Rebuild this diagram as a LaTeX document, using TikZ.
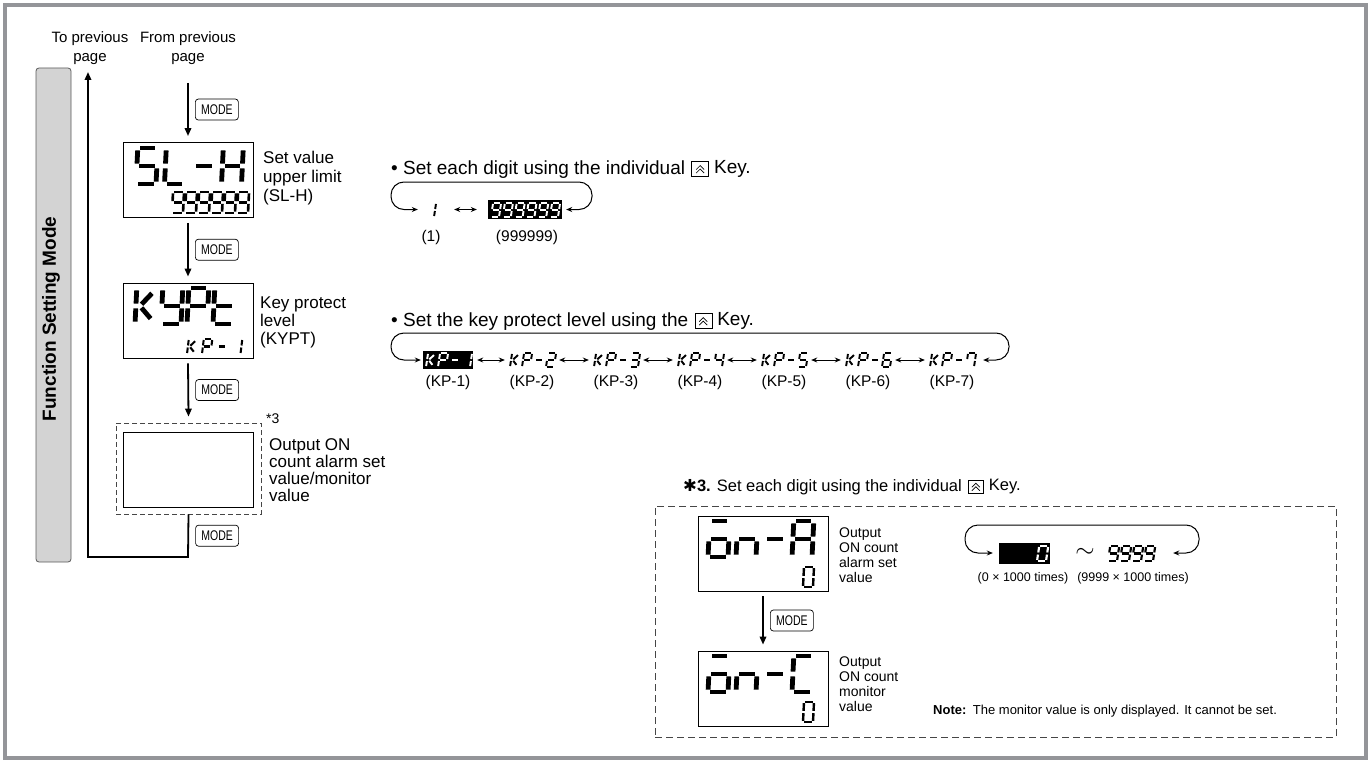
\documentclass[tikz,border=0pt]{standalone}
\usepackage{fontspec}
\setmainfont{Liberation Sans}
\newfontfamily\dejavu{DejaVu Sans}
\usepackage{graphicx}
\usetikzlibrary{arrows.meta, calc, positioning}

\definecolor{framegray}{RGB}{148,149,153}
\definecolor{bargray}{RGB}{211,211,211}
\definecolor{barline}{RGB}{90,90,90}
\definecolor{dashgray}{RGB}{70,70,70}

% segments of a seven segment digit (u to the right, v upwards)
\def\segXa{(0,1) -- (1,1)}
\def\segXb{(1,1) -- (1,0.5)}
\def\segXc{(1,0.5) -- (1,0)}
\def\segXd{(0,0) -- (1,0)}
\def\segXe{(0,0.5) -- (0,0)}
\def\segXf{(0,1) -- (0,0.5)}
\def\segXg{(0,0.5) -- (1,0.5)}
\def\segXp{(0.2,0.5) -- (0.85,0.9)}
\def\segXq{(0.2,0.5) -- (0.85,0.1)}

% characters
\def\dgS{a,f,g,c,d}
\def\dgL{f,e,d}
\def\dgH{f,e,b,c,g}
\def\dgDash{g}
\def\dgK{f,e,p,q}
\def\dgY{f,b,g,c,d}
\def\dgP{a,b,f,g,e}
\def\dgT{f,e,d,g}
\def\dgOb{a,g,c,d,e}
\def\dgN{e,g,c}
\def\dgA{a,b,c,e,f,g}
\def\dgC{a,f,e,d}
\def\dgZero{a,b,c,d,e,f}
\def\dgOne{b,c}
\def\dgTwo{a,b,g,e,d}
\def\dgThree{a,b,g,c,d}
\def\dgFour{f,g,b,c}
\def\dgFive{a,f,g,c,d}
\def\dgSix{a,f,g,e,c,d}
\def\dgSeven{a,b,c,f}
\def\dgNine{a,b,c,d,f,g}

% [slant]{x}{y}{width}{height}{colour}{segments}, (x,y) = lower left corner
\newcommand{\segchar}[7][0.05]{%
  \pgfmathsetmacro\segx{#2}%
  \pgfmathsetmacro\segy{#3}%
  \pgfmathsetmacro\segyx{#1*#5}%
  \pgfmathsetmacro\seglw{#4*0.24}%
  \pgfmathsetmacro\seggap{#4*0.12}%
  \edef\seglist{#7}%
  \begin{scope}[shift={(\segx,\segy)}, x={(#4pt,0pt)}, y={(\segyx pt,#5pt)}]
    \foreach \sg in \seglist {%
      \edef\segtmp{\noexpand\draw[line cap=butt, draw=#6, line width=\seglw pt,
        shorten <=\seggap pt, shorten >=\seggap pt] \csname segX\sg\endcsname;}%
      \segtmp}
  \end{scope}}
% [slant]{x}{y}{width}{height}{pitch}{colour}{characters}
\newcommand{\segrow}[8][0.05]{%
  \foreach \gl [count=\i from 0] in {#8} {\segchar[#1]{#2+\i*#6}{#3}{#4}{#5}{#7}{\gl}}}

% the double chevron of the up key
\newcommand{\upchevrons}[1]{%
  \draw[line width=0.7pt] ([shift={(-4,0.5)}]#1.center) -- ([shift={(0,-3.5)}]#1.center) -- ([shift={(4,0.5)}]#1.center);
  \draw[line width=0.7pt] ([shift={(-4,4)}]#1.center) -- (#1.center) -- ([shift={(4,4)}]#1.center);}
\newcommand{\modetext}{\scalebox{0.75}[1]{MODE}}

\begin{document}
\begin{tikzpicture}[x=1pt, y=-1pt, >={Stealth[length=6pt,width=5pt]},
  flow/.style={line width=1.8pt, -{Triangle[length=8pt,width=6.5pt]}},
  modekey/.style={draw, line width=0.7pt, rounded corners=3pt, minimum width=43pt,
    minimum height=21pt, inner sep=0pt, font=\fontsize{14}{14}\selectfont},
  lcd/.style={draw, line width=0.9pt, minimum width=130pt, minimum height=75pt, inner sep=0pt},
  lbl/.style={align=left, inner sep=0pt, font=\fontsize{17}{18}\selectfont},
  caplbl/.style={inner sep=0pt, font=\fontsize{15.5}{15.5}\selectfont},
  bullet/.style={inner sep=0pt, font=\fontsize{19}{19}\selectfont},
  keyicon/.style={draw, line width=0.6pt, minimum width=17pt, minimum height=15pt, inner sep=0pt},
  loopline/.style={line width=1pt, rounded corners=13pt, <->},
  swap/.style={line width=0.9pt, <->, shorten <=4pt, shorten >=4pt},
  hilite/.style={fill=black, inner sep=0pt}]
  \useasboundingbox (0,0) rectangle (1371,760);

  % Frame
  \draw[framegray, line width=4pt] (5,5) rectangle (1366,758);

  % Mode bar
  \node[draw=barline, fill=bargray, line width=0.8pt, rounded corners=3pt, minimum width=35pt,
    minimum height=494pt, inner sep=0pt] (fsmbar) at (53.5,315) {};
  \node[rotate=90, inner sep=0pt, font=\bfseries\fontsize{19}{19}\selectfont] (fsmtext) at (51,319) {Function Setting Mode};

  % Page links
  \node[align=center, inner sep=0pt, font=\fontsize{15}{18.5}\selectfont] (toprevtxt) at (90,48) {To previous\\page};
  \node[align=center, inner sep=0pt, font=\fontsize{15}{18.5}\selectfont] (fromprevtxt) at (188,48) {From previous\\page};
  \coordinate (fromprev) at (188,83);
  \coordinate (toprev) at (88,72);
  \coordinate (turn) at (188,557);

  % Displays of the main flow
  \node[lcd] (slh) at (188,180) {};
  \node[lcd] (kypt) at (188,320.5) {};
  \node[draw=dashgray, dash pattern=on 5pt off 3pt, line width=0.8pt, minimum width=145pt,
    minimum height=91pt, inner sep=0pt] (optbox) at (188.5,468.5) {};
  \node[lcd] (onbox) at (188,469.5) {};

  \segrow{136}{184}{20}{36}{28.5}{black}{\dgS,\dgL,\dgDash,\dgH}
  \segrow{172}{213}{11}{21}{13}{black}{\dgNine,\dgNine,\dgNine,\dgNine,\dgNine,\dgNine}
  \segrow{135}{324}{20}{36}{26}{black}{\dgK,\dgY,\dgP,\dgT}
  \segrow[0.12]{187}{354}{8.5}{15}{15}{black}{\dgK,\dgP,\dgDash,\dgOne}

  % Flow arrows
  \draw[flow] (fromprev) -- ([yshift=6pt]slh.north) node[midway, right=7pt, modekey] (mode1) {\modetext};
  \draw[flow] ([yshift=-5pt]slh.south) -- ([yshift=6pt]kypt.north) node[midway, right=7pt, modekey] (mode2) {\modetext};
  \draw[flow] ([yshift=-5pt]kypt.south) -- ([yshift=6pt]optbox.north) node[midway, right=7pt, modekey] (mode3) {\modetext};
  \draw[flow] (optbox.south) -- (turn) node[midway, right=7pt, modekey] (mode4) {\modetext} -| (toprev);

  % Labels of the displays
  \node[lbl, anchor=north west, font=\fontsize{17}{19}\selectfont] (slhlbl) at (263,150.5) {Set value\\upper limit\\(SL-H)};
  \node[lbl, anchor=north west] (kyptlbl) at (260,296.5) {Key protect\\level\\(KYPT)};
  \node[lbl, anchor=north west, font=\fontsize{17}{17}\selectfont] (optlbl) at (269,438.5) {Output ON\\count alarm set\\value/monitor\\value};
  \node[anchor=west, inner sep=0pt, font=\fontsize{14}{14}\selectfont] (star3) at (266,419) {*3};

  % Setting of SL-H
  \node[bullet, anchor=base west] (bul1) at (391,174) {\textbullet\ Set each digit using the individual};
  \node[keyicon, right=6pt of bul1] (key1) {};
  \upchevrons{key1}
  \node[bullet, right=5pt of key1] (keyword1) {Key.};
  \coordinate (loop1L) at (391,182);
  \coordinate (loop1R) at (592,182);
  \node[inner sep=0pt, minimum width=10pt, minimum height=16pt] (one) at (431,209.5) {};
  \node[hilite, minimum width=74pt, minimum height=19pt] (nines) at (525,209.5) {};
  \segchar[0.15]{426}{217}{8}{14}{black}{\dgOne}
  \segrow[0.15]{491}{217}{8}{14}{11.8}{white}{\dgNine,\dgNine,\dgNine,\dgNine,\dgNine,\dgNine}
  \draw[swap, shorten <=18pt, shorten >=11pt] (one) -- (nines);
  \draw[loopline, shorten <=4pt, shorten >=8pt] (nines.east) -- (nines.east -| loop1R) -- (loop1R)
    -- (loop1L) -- (one.west -| loop1L) -- (one.west);
  \node[caplbl] (onelbl) at (431,237) {(1)};
  \node[caplbl] (nineslbl) at (527,237) {(999999)};

  % Setting of KYPT
  \node[bullet, anchor=base west] (bul2) at (391,326) {\textbullet\ Set the key protect level using the};
  \node[keyicon, right=6pt of bul2] (key2) {};
  \upchevrons{key2}
  \node[bullet, right=5pt of key2] (keyword2) {Key.};
  \coordinate (loop2L) at (391,333);
  \coordinate (loop2R) at (1009,333);
  \node[hilite, minimum width=50pt, minimum height=18pt] (kp1) at (448,360) {};
  \foreach \k in {2,...,7}{
    \node[inner sep=0pt, minimum width=46pt, minimum height=16pt] (kp\k) at ({448+(\k-1)*84},360) {};}
  \segrow[0.15]{426}{367}{8}{14}{12}{white}{\dgK,\dgP,\dgDash,\dgOne}
  \foreach \k/\d in {2/\dgTwo,3/\dgThree,4/\dgFour,5/\dgFive,6/\dgSix,7/\dgSeven}{
    \segrow[0.15]{426+(\k-1)*84}{367}{8}{14}{12}{black}{\dgK,\dgP,\dgDash,\d}}
  \foreach \k [evaluate=\k as \n using int(\k+1)] in {1,...,6}{
    \draw[swap] (kp\k) -- (kp\n);}
  \draw[loopline, shorten <=8pt, shorten >=2pt] (kp7.east) -- (kp7.east -| loop2R) -- (loop2R)
    -- (loop2L) -- (kp1.west -| loop2L) -- (kp1.west);
  \foreach \k in {1,...,7}{
    \node[caplbl] (kplbl\k) at ({448+(\k-1)*84},382) {(KP-\k)};}

  % Note *3
  \node[inner sep=0pt, anchor=base west, font=\fontsize{16.5}{16.5}\selectfont] (bul3) at (683,491)
    {{\dejavu ✱}\textbf{3.} Set each digit using the individual};
  \node[keyicon, minimum width=15pt, minimum height=13pt, right=6pt of bul3] (key3) {};
  \upchevrons{key3}
  \node[inner sep=0pt, font=\fontsize{16.5}{16.5}\selectfont, right=5pt of key3] (keyword3) {Key.};
  \node[draw=dashgray, dash pattern=on 7pt off 4pt, line width=0.8pt, minimum width=681pt,
    minimum height=231pt, inner sep=0pt] (setbox) at (995.5,621.5) {};

  \node[lcd] (ona) at (763,553.5) {};
  \node[lcd] (onc) at (763,688.5) {};
  \segrow{708}{557}{20}{36}{28}{black}{\dgOb,\dgN,\dgDash,\dgA}
  \segchar{803}{587}{10}{20}{black}{\dgZero}
  \segrow{708}{692}{20}{36}{28}{black}{\dgOb,\dgN,\dgDash,\dgC}
  \segchar{803}{722}{10}{20}{black}{\dgZero}
  \draw[flow] ([yshift=-5pt]ona.south) -- ([yshift=6pt]onc.north) node[midway, right=7pt, modekey] (mode5) {\modetext};
  \node[lbl, anchor=north west, font=\fontsize{14}{15}\selectfont] (onalbl) at (839,528) {Output\\ON count\\alarm set\\value};
  \node[lbl, anchor=north west, font=\fontsize{14}{15}\selectfont] (onclbl) at (839,657) {Output\\ON count\\monitor\\value};

  \coordinate (loop3L) at (965,525);
  \coordinate (loop3R) at (1199,525);
  \node[hilite, minimum width=51pt, minimum height=21pt] (zero) at (1024.5,553) {};
  \node[inner sep=0pt, minimum width=50pt, minimum height=16pt] (topnines) at (1132,553) {};
  \node[inner sep=0pt, font=\fontsize{24}{24}\selectfont] (tilde) at (1085,553) {$\sim$};
  \segchar[0.15]{1037}{561}{9}{15}{white}{\dgZero}
  \segrow[0.15]{1108}{561}{9}{15}{12}{black}{\dgNine,\dgNine,\dgNine,\dgNine}
  \draw[loopline, shorten <=16pt, shorten >=6pt] (topnines.east) -- (topnines.east -| loop3R) -- (loop3R)
    -- (loop3L) -- (zero.west -| loop3L) -- (zero.west);
  \node[inner sep=0pt, font=\fontsize{12.5}{12.5}\selectfont] (zerolbl) at (1023,578) {(0 × 1000 times)};
  \node[inner sep=0pt, font=\fontsize{12.5}{12.5}\selectfont] (nineslbl2) at (1133,578) {(9999 × 1000 times)};

  \node[inner sep=0pt, anchor=base west, font=\fontsize{13}{13}\selectfont] (note) at (933,714)
    {\textbf{Note:}\enspace The monitor value is only displayed. It cannot be set.};
\end{tikzpicture}
\end{document}
